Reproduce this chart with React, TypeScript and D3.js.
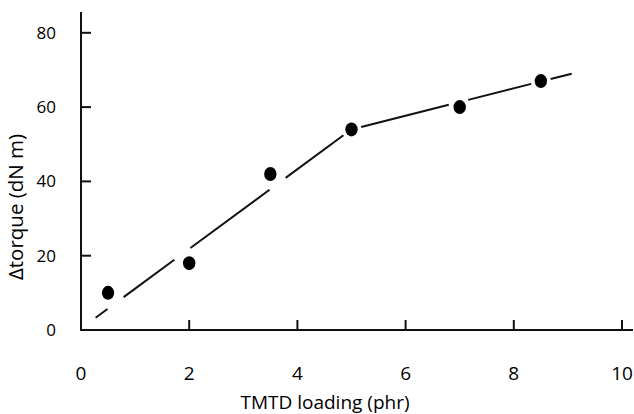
import React from "react";
import * as d3 from "d3";

const xTicks = [0, 2, 4, 6, 8, 10];
const yTicks = [0, 20, 40, 60, 80];
const loading = [0.5, 2, 3.5, 5, 7, 8.5];
const torque = [10, 18, 42, 54, 60, 67];
const fitLoading = [0.27, 5, 9.07];
const fitTorque = [3.3, 54, 69];
const xTitle = "TMTD loading (phr)";
const yTitle = "Δtorque (dN m)";

const W = 634;
const H = 414;
const FONT = "'Open Sans', sans-serif";

export default function App() {
  const x = d3.scaleLinear().domain([0, 10]).range([81, 622]);
  const y = d3.scaleLinear().domain([0, 80]).range([330, 32.8]);

  const fitPts: [number, number][] = fitLoading.map((v, i) => [x(v), y(fitTorque[i])]);
  const linePath = d3.line()(fitPts) || "";

  const segLens: number[] = [];
  let total = 0;
  for (let i = 0; i < fitPts.length - 1; i++) {
    const dx = fitPts[i + 1][0] - fitPts[i][0];
    const dy = fitPts[i + 1][1] - fitPts[i][1];
    const l = Math.hypot(dx, dy);
    segLens.push(l);
    total += l;
  }
  const feet = loading.map((v, k) => {
    const px = x(v), py = y(torque[k]);
    let best = { d: Infinity, s: 0 };
    let acc = 0;
    for (let i = 0; i < fitPts.length - 1; i++) {
      const [ax, ay] = fitPts[i];
      const [bx, by] = fitPts[i + 1];
      const dx = bx - ax, dy = by - ay;
      const L2 = dx * dx + dy * dy;
      let t = ((px - ax) * dx + (py - ay) * dy) / L2;
      t = Math.max(0, Math.min(1, t));
      const fx = ax + t * dx, fy = ay + t * dy;
      const d = Math.hypot(px - fx, py - fy);
      if (d < best.d) best = { d, s: acc + t * segLens[i] };
      acc += segLens[i];
    }
    return best.s;
  }).sort((a, b) => a - b);
  const half = 10;
  const dash: number[] = [];
  let pos = 0;
  feet.forEach((s) => {
    const a = Math.max(pos, s - half);
    dash.push(a - pos, 2 * half);
    pos = s + half;
  });
  dash.push(Math.max(0, total - pos) + 5, 1000);

  return (
    <svg
      width={W}
      height={H}
      style={{ position: "absolute", left: 0, top: 0, background: "#fff" }}
    >
      <rect width={W} height={H} fill="#fff" />
      <line x1={x(0)} x2={x(0)} y1={12} y2={331} stroke="#111" strokeWidth={2} />
      <line x1={x(0) - 1} x2={633} y1={y(0)} y2={y(0)} stroke="#111" strokeWidth={2} />
      {yTicks.filter((t) => t !== 0).map((t) => (
        <line key={"yt" + t} x1={x(0)} x2={x(0) + 10} y1={y(t)} y2={y(t)} stroke="#111" strokeWidth={2} />
      ))}
      {xTicks.filter((t) => t !== 0).map((t) => (
        <line key={"xt" + t} x1={x(t)} x2={x(t)} y1={y(0)} y2={y(0) - 10} stroke="#111" strokeWidth={2} />
      ))}
      {yTicks.map((t) => (
        <text key={"yl" + t} x={56} y={y(t) + 6} textAnchor="end" fontFamily={FONT} fontSize={17} fill="#000">
          {t}
        </text>
      ))}
      {xTicks.map((t) => (
        <text key={"xl" + t} x={x(t)} y={380} textAnchor="middle" fontFamily={FONT} fontSize={19} fill="#000">
          {t}
        </text>
      ))}
      <text x={325} y={409} textAnchor="middle" fontFamily={FONT} fontSize={19} fill="#000">
        {xTitle}
      </text>
      <text
        transform={`translate(23,207) rotate(-90)`}
        textAnchor="middle"
        fontFamily={FONT}
        fontSize={20.5}
        fill="#000"
      >
        {yTitle}
      </text>
      <path d={linePath} fill="none" stroke="#111" strokeWidth={2} strokeDasharray={dash.join(" ")} />
      {loading.map((v, i) => (
        <ellipse key={"p" + i} cx={x(v)} cy={y(torque[i])} rx={6.2} ry={7} fill="#000" />
      ))}
    </svg>
  );
}
